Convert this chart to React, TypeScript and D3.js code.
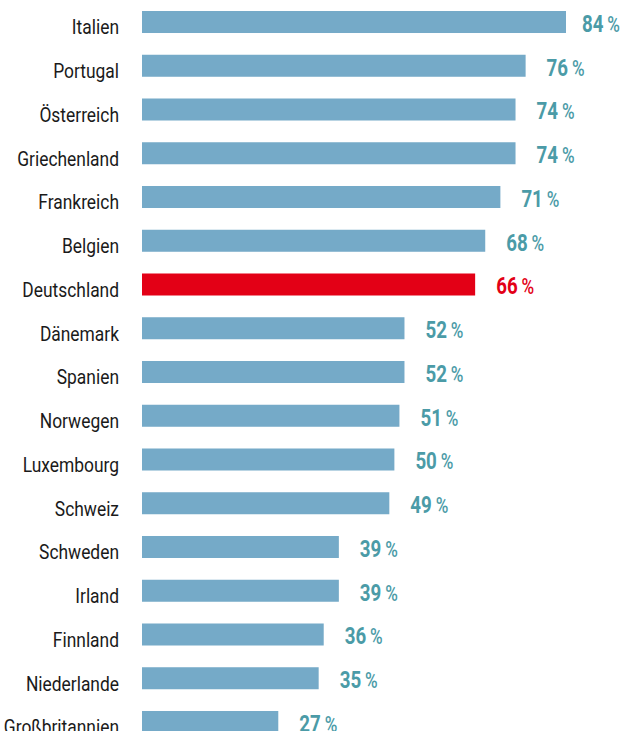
import React from "react";
import * as d3 from "d3";

const countries = [
  "Italien", "Portugal", "Österreich", "Griechenland", "Frankreich", "Belgien",
  "Deutschland", "Dänemark", "Spanien", "Norwegen", "Luxembourg", "Schweiz",
  "Schweden", "Irland", "Finnland", "Niederlande", "Großbritannien",
];
const values = [84, 76, 74, 74, 71, 68, 66, 52, 52, 51, 50, 49, 39, 39, 36, 35, 27];
const highlight = "Deutschland";

const W = 620;
const H = 731;
const FONT = "Roboto, 'Liberation Sans', sans-serif";

export default function App() {
  const x = d3.scaleLinear().domain([0, 84]).range([142, 566]);
  const y = d3
    .scaleBand<string>()
    .domain(countries)
    .range([11, 733])
    .paddingInner(0.497)
    .paddingOuter(0)
    .align(0);

  return (
    <svg
      width={W}
      height={H}
      style={{ position: "absolute", left: 0, top: 0, background: "#fff" }}
    >
      {countries.map((c, i) => {
        const v = values[i];
        const top = y(c) as number;
        const isHi = c === highlight;
        const barColor = isHi ? "#e30016" : "#75aac8";
        const txtColor = isHi ? "#e30016" : "#4b9ba7";
        const vx = Math.min(x(v) + 21, 582);
        return (
          <g key={c}>
            <g transform={`translate(119,${top + 23.3}) scale(0.87,1)`}>
              <text
                x={0}
                y={0}
                textAnchor="end"
                fontFamily={FONT}
                fontSize={20}
                fill="#1a1a1a"
              >
                {c}
              </text>
            </g>
            <rect x={x(0)} y={top} width={x(v) - x(0)} height={y.bandwidth()} fill={barColor} />
            <g transform={`translate(${vx},${top + 21}) scale(0.78,1)`}>
              <text
                x={0}
                y={0}
                fontFamily={FONT}
                fontSize={24}
                fontWeight={700}
                fill={txtColor}
              >
                {v}
                <tspan dx={5} fontSize={22} fontWeight={500}>%</tspan>
              </text>
            </g>
          </g>
        );
      })}
    </svg>
  );
}
